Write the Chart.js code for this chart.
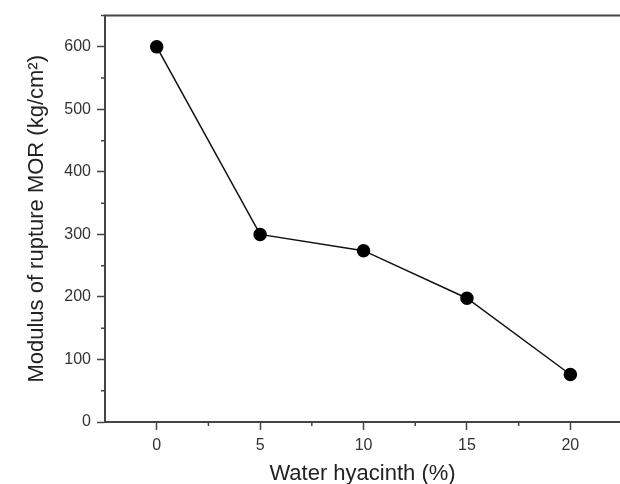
<!DOCTYPE html>
<html>
<head>
<meta charset="utf-8">
<script src="https://cdn.jsdelivr.net/npm/chart.js@4"></script>
<style>
  html, body { margin: 0; padding: 0; background: #fff; }
  #wrap { width: 620px; height: 484px; overflow: hidden; }
</style>
</head>
<body>
<div id="wrap"><canvas id="mor" width="620" height="484"></canvas></div>
<script>
// DATA
const hyacinth = [0, 5, 10, 15, 20];         // % water hyacinth
const morValues = [600, 300, 274, 198, 76];  // kg/cm2
const xTickLabels = [0, 5, 10, 15, 20];
const xMinorTicks = [2.5, 7.5, 12.5, 17.5];
const yTickLabels = [0, 100, 200, 300, 400, 500, 600];

const AXIS_COLOR = "#444";
const TEXT_COLOR = "#333";
const FONT = "Arial, 'Liberation Sans', sans-serif";

// minor tick marks + top frame line
const framePlugin = {
    id: "frame",
    afterDraw(chart) {
        const ctx = chart.ctx;
        const area = chart.chartArea;
        const xs = chart.scales.x;
        const ys = chart.scales.y;
        ctx.save();
        ctx.strokeStyle = AXIS_COLOR;
        ctx.lineWidth = 2;
        ctx.beginPath();
        ctx.moveTo(area.left - 1, area.top);
        ctx.lineTo(area.right, area.top);
        ctx.stroke();

        ctx.lineWidth = 1.5;
        ctx.beginPath();
        ys.ticks.forEach(t => {
            if (t.value % 100 !== 0) {
                const py = ys.getPixelForValue(t.value);
                ctx.moveTo(area.left - 4, py);
                ctx.lineTo(area.left, py);
            }
        });
        xMinorTicks.forEach(v => {
            const px = xs.getPixelForValue(v);
            ctx.moveTo(px, area.bottom);
            ctx.lineTo(px, area.bottom + 4);
        });
        ctx.stroke();
        ctx.restore();
    }
};

const points = hyacinth.map((x, i) => ({ x: x, y: morValues[i] }));

new Chart(document.getElementById("mor").getContext("2d"), {
    type: "line",
    data: {
        datasets: [{
            data: points,
            borderColor: "#111",
            borderWidth: 1.5,
            backgroundColor: "#000",
            pointBackgroundColor: "#000",
            pointBorderColor: "#000",
            pointRadius: 6,
            tension: 0
        }]
    },
    options: {
        responsive: false,
        animation: false,
        layout: { autoPadding: false, padding: { left: 24, top: 13, right: 0, bottom: -3 } },
        plugins: { legend: { display: false }, tooltip: { enabled: false } },
        scales: {
            x: {
                type: "linear",
                min: -2.5,
                max: 22.4,
                border: { color: AXIS_COLOR, width: 2 },
                grid: {
                    drawOnChartArea: false,
                    tickLength: 8,
                    tickWidth: 1.5,
                    tickColor: AXIS_COLOR
                },
                afterBuildTicks: s => { s.ticks = xTickLabels.map(v => ({ value: v })); },
                ticks: {
                    padding: 6,
                    color: TEXT_COLOR,
                    font: { family: FONT, size: 16 },
                    maxRotation: 0,
                    autoSkip: false,
                    callback: v => String(v)
                },
                title: {
                    display: true,
                    text: "Water hyacinth (%)",
                    color: "#222",
                    font: { family: FONT, size: 22 },
                    padding: { top: 8, bottom: 0 }
                },
                afterFit: s => { s.height = 65; }
            },
            y: {
                min: 0,
                max: 650,
                border: { color: AXIS_COLOR, width: 2 },
                grid: {
                    drawOnChartArea: false,
                    tickLength: 8,
                    tickWidth: 1.5,
                    tickColor: c => (c.tick && c.tick.value % 100 === 0) ? AXIS_COLOR : "rgba(0,0,0,0)"
                },
                ticks: {
                    stepSize: 50,
                    padding: 6,
                    color: TEXT_COLOR,
                    font: { family: FONT, size: 16 },
                    autoSkip: false,
                    callback: v => yTickLabels.includes(v) ? String(v) : ""
                },
                title: {
                    display: true,
                    text: "Modulus of rupture MOR (kg/cm²)",
                    color: "#222",
                    font: { family: FONT, size: 22 },
                    padding: { top: 0, bottom: 0 }
                },
                afterFit: s => { s.width = 81; }
            }
        }
    },
    plugins: [framePlugin]
});
</script>
</body>
</html>
